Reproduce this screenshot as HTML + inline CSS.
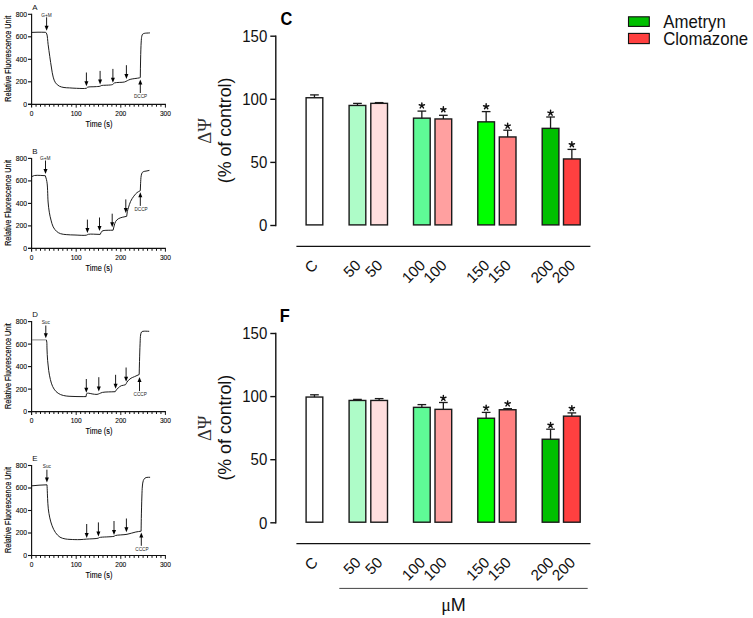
<!DOCTYPE html>
<html><head><meta charset="utf-8"><style>
html,body{margin:0;padding:0;background:#fff;}
svg{display:block;}
text{font-family:"Liberation Sans", sans-serif;}
</style></head><body>
<svg width="753" height="618" viewBox="0 0 753 618">
<rect width="753" height="618" fill="#fff"/>
<g><line x1="31.6" y1="13.80" x2="31.6" y2="107.60" stroke="#111" stroke-width="1.15"/><line x1="28.00" y1="104.3" x2="165.90" y2="104.3" stroke="#111" stroke-width="1.15"/><line x1="28.00" y1="104.30" x2="31.6" y2="104.30" stroke="#111" stroke-width="1.1"/><text x="27.00" y="106.70" font-size="6.8" text-anchor="end" fill="#000" stroke="#000" stroke-width="0.08">0</text><line x1="28.00" y1="81.80" x2="31.6" y2="81.80" stroke="#111" stroke-width="1.1"/><text x="27.00" y="84.20" font-size="6.8" text-anchor="end" fill="#000" stroke="#000" stroke-width="0.08">200</text><line x1="28.00" y1="59.30" x2="31.6" y2="59.30" stroke="#111" stroke-width="1.1"/><text x="27.00" y="61.70" font-size="6.8" text-anchor="end" fill="#000" stroke="#000" stroke-width="0.08">400</text><line x1="28.00" y1="36.80" x2="31.6" y2="36.80" stroke="#111" stroke-width="1.1"/><text x="27.00" y="39.20" font-size="6.8" text-anchor="end" fill="#000" stroke="#000" stroke-width="0.08">600</text><line x1="28.00" y1="14.30" x2="31.6" y2="14.30" stroke="#111" stroke-width="1.1"/><text x="27.00" y="16.70" font-size="6.8" text-anchor="end" fill="#000" stroke="#000" stroke-width="0.08">800</text><line x1="36.06" y1="104.3" x2="36.06" y2="106.70" stroke="#111" stroke-width="1.0"/><line x1="40.52" y1="104.3" x2="40.52" y2="106.70" stroke="#111" stroke-width="1.0"/><line x1="44.98" y1="104.3" x2="44.98" y2="106.70" stroke="#111" stroke-width="1.0"/><line x1="49.44" y1="104.3" x2="49.44" y2="106.70" stroke="#111" stroke-width="1.0"/><line x1="53.90" y1="104.3" x2="53.90" y2="106.70" stroke="#111" stroke-width="1.0"/><line x1="58.36" y1="104.3" x2="58.36" y2="106.70" stroke="#111" stroke-width="1.0"/><line x1="62.82" y1="104.3" x2="62.82" y2="106.70" stroke="#111" stroke-width="1.0"/><line x1="67.28" y1="104.3" x2="67.28" y2="106.70" stroke="#111" stroke-width="1.0"/><line x1="71.74" y1="104.3" x2="71.74" y2="106.70" stroke="#111" stroke-width="1.0"/><line x1="76.20" y1="104.3" x2="76.20" y2="107.60" stroke="#111" stroke-width="1.0"/><line x1="80.66" y1="104.3" x2="80.66" y2="106.70" stroke="#111" stroke-width="1.0"/><line x1="85.12" y1="104.3" x2="85.12" y2="106.70" stroke="#111" stroke-width="1.0"/><line x1="89.58" y1="104.3" x2="89.58" y2="106.70" stroke="#111" stroke-width="1.0"/><line x1="94.04" y1="104.3" x2="94.04" y2="106.70" stroke="#111" stroke-width="1.0"/><line x1="98.50" y1="104.3" x2="98.50" y2="106.70" stroke="#111" stroke-width="1.0"/><line x1="102.96" y1="104.3" x2="102.96" y2="106.70" stroke="#111" stroke-width="1.0"/><line x1="107.42" y1="104.3" x2="107.42" y2="106.70" stroke="#111" stroke-width="1.0"/><line x1="111.88" y1="104.3" x2="111.88" y2="106.70" stroke="#111" stroke-width="1.0"/><line x1="116.34" y1="104.3" x2="116.34" y2="106.70" stroke="#111" stroke-width="1.0"/><line x1="120.80" y1="104.3" x2="120.80" y2="107.60" stroke="#111" stroke-width="1.0"/><line x1="125.26" y1="104.3" x2="125.26" y2="106.70" stroke="#111" stroke-width="1.0"/><line x1="129.72" y1="104.3" x2="129.72" y2="106.70" stroke="#111" stroke-width="1.0"/><line x1="134.18" y1="104.3" x2="134.18" y2="106.70" stroke="#111" stroke-width="1.0"/><line x1="138.64" y1="104.3" x2="138.64" y2="106.70" stroke="#111" stroke-width="1.0"/><line x1="143.10" y1="104.3" x2="143.10" y2="106.70" stroke="#111" stroke-width="1.0"/><line x1="147.56" y1="104.3" x2="147.56" y2="106.70" stroke="#111" stroke-width="1.0"/><line x1="152.02" y1="104.3" x2="152.02" y2="106.70" stroke="#111" stroke-width="1.0"/><line x1="156.48" y1="104.3" x2="156.48" y2="106.70" stroke="#111" stroke-width="1.0"/><line x1="160.94" y1="104.3" x2="160.94" y2="106.70" stroke="#111" stroke-width="1.0"/><line x1="165.40" y1="104.3" x2="165.40" y2="107.60" stroke="#111" stroke-width="1.0"/><text x="31.60" y="115.70" font-size="6.6" text-anchor="middle" fill="#000" stroke="#000" stroke-width="0.08">0</text><text x="76.20" y="115.70" font-size="6.6" text-anchor="middle" fill="#000" stroke="#000" stroke-width="0.08">100</text><text x="120.80" y="115.70" font-size="6.6" text-anchor="middle" fill="#000" stroke="#000" stroke-width="0.08">200</text><text x="165.40" y="115.70" font-size="6.6" text-anchor="middle" fill="#000" stroke="#000" stroke-width="0.08">300</text><text transform="translate(99.00,126.70) scale(1,1.12)" font-size="7.4" text-anchor="middle" fill="#000" stroke="#000" stroke-width="0.1">Time (s)</text><text transform="translate(10.6,58.80) rotate(-90) scale(1,1.18)" x="0" y="0" font-size="7.2" text-anchor="middle" fill="#000" stroke="#000" stroke-width="0.12">Relative Fluorescence Unit</text><text x="32.2" y="9.60" font-size="7.9" fill="#111">A</text><path d="M32.00,32.40 C34.00,32.33 35.88,32.22 38.00,32.20 C40.41,32.18 43.13,32.27 45.70,32.30 C46.07,32.87 46.49,33.14 46.80,34.00 C47.51,35.94 47.63,40.71 48.10,44.30 C48.62,48.24 49.22,52.66 49.80,56.70 C50.35,60.56 50.90,64.44 51.50,68.00 C52.04,71.20 52.43,74.45 53.20,77.10 C53.83,79.26 54.39,81.25 55.50,82.80 C56.51,84.23 57.95,85.41 59.40,86.20 C60.79,86.95 62.38,87.22 64.00,87.50 C65.76,87.81 67.64,87.77 69.60,87.90 C71.78,88.04 73.99,88.24 76.50,88.30 C79.52,88.37 84.89,88.83 86.50,88.20 C87.12,87.96 87.01,87.45 87.60,87.20 C88.93,86.63 92.76,86.89 95.00,86.70 C96.86,86.55 99.04,86.53 100.10,86.20 C100.62,86.04 100.61,85.78 101.20,85.60 C102.98,85.05 110.55,85.39 112.60,84.50 C113.51,84.10 113.40,83.39 114.30,83.00 C116.19,82.17 122.08,82.62 124.40,82.00 C125.70,81.66 126.34,81.14 127.30,80.70 C128.24,80.27 128.87,79.78 130.10,79.40 C132.23,78.74 137.64,78.31 139.20,77.90 C139.75,77.75 139.93,77.63 140.30,77.50 C140.40,71.33 140.44,65.04 140.60,59.00 C140.75,53.21 140.91,46.18 141.20,42.00 C141.37,39.56 141.45,37.61 141.80,36.20 C142.01,35.34 142.17,34.67 142.60,34.20 C142.99,33.77 143.48,33.60 144.20,33.40 C145.49,33.03 148.00,33.07 149.90,32.90" fill="none" stroke="#111" stroke-width="0.95" stroke-linejoin="round"/><line x1="46.6" y1="17.3" x2="46.6" y2="26.80" stroke="#000" stroke-width="0.9"/><path d="M44.60,25.80 L48.60,25.80 L46.6,30.8 Z" fill="#000"/><line x1="86.4" y1="72.5" x2="86.4" y2="82.20" stroke="#000" stroke-width="0.9"/><path d="M84.40,81.20 L88.40,81.20 L86.4,86.19999999999999 Z" fill="#000"/><line x1="100.1" y1="70.9" x2="100.1" y2="80.50" stroke="#000" stroke-width="0.9"/><path d="M98.10,79.50 L102.10,79.50 L100.1,84.5 Z" fill="#000"/><line x1="112.9" y1="68.9" x2="112.9" y2="78.80" stroke="#000" stroke-width="0.9"/><path d="M110.90,77.80 L114.90,77.80 L112.9,82.8 Z" fill="#000"/><line x1="126.4" y1="65.2" x2="126.4" y2="75.00" stroke="#000" stroke-width="0.9"/><path d="M124.40,74.00 L128.40,74.00 L126.4,79.0 Z" fill="#000"/><line x1="140.3" y1="93.0" x2="140.3" y2="83.60" stroke="#000" stroke-width="0.9"/><path d="M138.30,84.60 L142.30,84.60 L140.3,79.60000000000001 Z" fill="#000"/><text transform="translate(46.5,16.80) scale(0.92,1)" font-size="5.2" text-anchor="middle" fill="#222">G+M</text><text transform="translate(140.60,97.55) scale(0.9,0.95)" font-size="5.2" text-anchor="middle" fill="#222">DCCP</text></g>
<g><line x1="31.6" y1="157.90" x2="31.6" y2="251.70" stroke="#111" stroke-width="1.15"/><line x1="28.00" y1="248.4" x2="165.90" y2="248.4" stroke="#111" stroke-width="1.15"/><line x1="28.00" y1="248.40" x2="31.6" y2="248.40" stroke="#111" stroke-width="1.1"/><text x="27.00" y="250.80" font-size="6.8" text-anchor="end" fill="#000" stroke="#000" stroke-width="0.08">0</text><line x1="28.00" y1="225.90" x2="31.6" y2="225.90" stroke="#111" stroke-width="1.1"/><text x="27.00" y="228.30" font-size="6.8" text-anchor="end" fill="#000" stroke="#000" stroke-width="0.08">200</text><line x1="28.00" y1="203.40" x2="31.6" y2="203.40" stroke="#111" stroke-width="1.1"/><text x="27.00" y="205.80" font-size="6.8" text-anchor="end" fill="#000" stroke="#000" stroke-width="0.08">400</text><line x1="28.00" y1="180.90" x2="31.6" y2="180.90" stroke="#111" stroke-width="1.1"/><text x="27.00" y="183.30" font-size="6.8" text-anchor="end" fill="#000" stroke="#000" stroke-width="0.08">600</text><line x1="28.00" y1="158.40" x2="31.6" y2="158.40" stroke="#111" stroke-width="1.1"/><text x="27.00" y="160.80" font-size="6.8" text-anchor="end" fill="#000" stroke="#000" stroke-width="0.08">800</text><line x1="36.06" y1="248.4" x2="36.06" y2="250.80" stroke="#111" stroke-width="1.0"/><line x1="40.52" y1="248.4" x2="40.52" y2="250.80" stroke="#111" stroke-width="1.0"/><line x1="44.98" y1="248.4" x2="44.98" y2="250.80" stroke="#111" stroke-width="1.0"/><line x1="49.44" y1="248.4" x2="49.44" y2="250.80" stroke="#111" stroke-width="1.0"/><line x1="53.90" y1="248.4" x2="53.90" y2="250.80" stroke="#111" stroke-width="1.0"/><line x1="58.36" y1="248.4" x2="58.36" y2="250.80" stroke="#111" stroke-width="1.0"/><line x1="62.82" y1="248.4" x2="62.82" y2="250.80" stroke="#111" stroke-width="1.0"/><line x1="67.28" y1="248.4" x2="67.28" y2="250.80" stroke="#111" stroke-width="1.0"/><line x1="71.74" y1="248.4" x2="71.74" y2="250.80" stroke="#111" stroke-width="1.0"/><line x1="76.20" y1="248.4" x2="76.20" y2="251.70" stroke="#111" stroke-width="1.0"/><line x1="80.66" y1="248.4" x2="80.66" y2="250.80" stroke="#111" stroke-width="1.0"/><line x1="85.12" y1="248.4" x2="85.12" y2="250.80" stroke="#111" stroke-width="1.0"/><line x1="89.58" y1="248.4" x2="89.58" y2="250.80" stroke="#111" stroke-width="1.0"/><line x1="94.04" y1="248.4" x2="94.04" y2="250.80" stroke="#111" stroke-width="1.0"/><line x1="98.50" y1="248.4" x2="98.50" y2="250.80" stroke="#111" stroke-width="1.0"/><line x1="102.96" y1="248.4" x2="102.96" y2="250.80" stroke="#111" stroke-width="1.0"/><line x1="107.42" y1="248.4" x2="107.42" y2="250.80" stroke="#111" stroke-width="1.0"/><line x1="111.88" y1="248.4" x2="111.88" y2="250.80" stroke="#111" stroke-width="1.0"/><line x1="116.34" y1="248.4" x2="116.34" y2="250.80" stroke="#111" stroke-width="1.0"/><line x1="120.80" y1="248.4" x2="120.80" y2="251.70" stroke="#111" stroke-width="1.0"/><line x1="125.26" y1="248.4" x2="125.26" y2="250.80" stroke="#111" stroke-width="1.0"/><line x1="129.72" y1="248.4" x2="129.72" y2="250.80" stroke="#111" stroke-width="1.0"/><line x1="134.18" y1="248.4" x2="134.18" y2="250.80" stroke="#111" stroke-width="1.0"/><line x1="138.64" y1="248.4" x2="138.64" y2="250.80" stroke="#111" stroke-width="1.0"/><line x1="143.10" y1="248.4" x2="143.10" y2="250.80" stroke="#111" stroke-width="1.0"/><line x1="147.56" y1="248.4" x2="147.56" y2="250.80" stroke="#111" stroke-width="1.0"/><line x1="152.02" y1="248.4" x2="152.02" y2="250.80" stroke="#111" stroke-width="1.0"/><line x1="156.48" y1="248.4" x2="156.48" y2="250.80" stroke="#111" stroke-width="1.0"/><line x1="160.94" y1="248.4" x2="160.94" y2="250.80" stroke="#111" stroke-width="1.0"/><line x1="165.40" y1="248.4" x2="165.40" y2="251.70" stroke="#111" stroke-width="1.0"/><text x="31.60" y="259.80" font-size="6.6" text-anchor="middle" fill="#000" stroke="#000" stroke-width="0.08">0</text><text x="76.20" y="259.80" font-size="6.6" text-anchor="middle" fill="#000" stroke="#000" stroke-width="0.08">100</text><text x="120.80" y="259.80" font-size="6.6" text-anchor="middle" fill="#000" stroke="#000" stroke-width="0.08">200</text><text x="165.40" y="259.80" font-size="6.6" text-anchor="middle" fill="#000" stroke="#000" stroke-width="0.08">300</text><text transform="translate(99.00,270.80) scale(1,1.12)" font-size="7.4" text-anchor="middle" fill="#000" stroke="#000" stroke-width="0.1">Time (s)</text><text transform="translate(10.6,202.90) rotate(-90) scale(1,1.18)" x="0" y="0" font-size="7.2" text-anchor="middle" fill="#000" stroke="#000" stroke-width="0.12">Relative Fluorescence Unit</text><text x="32.2" y="153.60" font-size="7.9" fill="#111">B</text><path d="M32.00,176.50 C32.83,176.17 33.47,175.71 34.50,175.50 C35.99,175.20 38.35,175.36 40.20,175.40 C41.95,175.44 43.60,175.60 45.30,175.70 C45.67,176.90 46.09,178.02 46.40,179.30 C46.74,180.73 47.00,182.22 47.20,183.90 C47.43,185.92 47.47,188.07 47.60,190.60 C47.77,193.90 47.80,198.31 48.10,202.00 C48.38,205.50 48.77,209.03 49.30,212.20 C49.77,215.01 50.32,217.58 51.00,220.10 C51.64,222.47 52.18,224.94 53.20,226.90 C54.11,228.64 55.29,230.24 56.60,231.40 C57.79,232.45 59.10,233.17 60.60,233.70 C62.26,234.29 64.12,234.39 66.20,234.60 C68.80,234.87 71.88,234.90 75.00,235.00 C78.53,235.11 84.10,235.65 86.30,235.20 C87.27,235.00 87.32,234.51 88.30,234.30 C90.58,233.82 96.23,234.37 100.20,234.40 C100.83,233.30 101.31,231.72 102.10,231.10 C102.68,230.64 103.18,230.65 104.10,230.50 C106.01,230.19 110.10,230.30 113.10,230.20 C113.43,228.80 113.68,227.42 114.10,226.00 C114.54,224.49 114.92,222.65 115.70,221.40 C116.38,220.32 117.26,219.47 118.30,218.80 C119.41,218.08 120.84,217.71 122.20,217.30 C123.63,216.87 125.20,216.63 126.70,216.30 C126.90,214.77 127.00,213.16 127.30,211.70 C127.58,210.34 127.95,209.25 128.40,207.80 C128.99,205.92 129.67,203.38 130.60,201.40 C131.49,199.52 132.66,197.73 133.80,196.20 C134.81,194.84 135.84,193.54 137.00,192.60 C138.03,191.76 139.20,191.33 140.30,190.70 C140.40,188.23 140.45,185.77 140.60,183.30 C140.75,180.81 140.82,177.76 141.20,175.80 C141.45,174.49 141.66,173.33 142.20,172.60 C142.61,172.04 143.19,171.75 143.80,171.50 C144.45,171.23 145.19,171.26 146.00,171.10 C147.01,170.90 148.27,170.63 149.40,170.40" fill="none" stroke="#111" stroke-width="0.95" stroke-linejoin="round"/><line x1="45.5" y1="160.5" x2="45.5" y2="170.10" stroke="#000" stroke-width="0.9"/><path d="M43.50,169.10 L47.50,169.10 L45.5,174.1 Z" fill="#000"/><line x1="87.4" y1="219.6" x2="87.4" y2="229.10" stroke="#000" stroke-width="0.9"/><path d="M85.40,228.10 L89.40,228.10 L87.4,233.1 Z" fill="#000"/><line x1="99.5" y1="217.5" x2="99.5" y2="227.10" stroke="#000" stroke-width="0.9"/><path d="M97.50,226.10 L101.50,226.10 L99.5,231.1 Z" fill="#000"/><line x1="112.2" y1="213.7" x2="112.2" y2="223.20" stroke="#000" stroke-width="0.9"/><path d="M110.20,222.20 L114.20,222.20 L112.2,227.2 Z" fill="#000"/><line x1="125.8" y1="199.4" x2="125.8" y2="209.00" stroke="#000" stroke-width="0.9"/><path d="M123.80,208.00 L127.80,208.00 L125.8,213.0 Z" fill="#000"/><line x1="140.3" y1="205.9" x2="140.3" y2="196.20" stroke="#000" stroke-width="0.9"/><path d="M138.30,197.20 L142.30,197.20 L140.3,192.20000000000002 Z" fill="#000"/><text transform="translate(45.3,159.80) scale(0.92,1)" font-size="5.2" text-anchor="middle" fill="#222">G+M</text><text transform="translate(141.00,210.85) scale(0.9,0.95)" font-size="5.2" text-anchor="middle" fill="#222">DCCP</text></g>
<g><line x1="31.6" y1="321.10" x2="31.6" y2="414.90" stroke="#111" stroke-width="1.15"/><line x1="28.00" y1="411.6" x2="165.90" y2="411.6" stroke="#111" stroke-width="1.15"/><line x1="28.00" y1="411.60" x2="31.6" y2="411.60" stroke="#111" stroke-width="1.1"/><text x="27.00" y="414.00" font-size="6.8" text-anchor="end" fill="#000" stroke="#000" stroke-width="0.08">0</text><line x1="28.00" y1="389.10" x2="31.6" y2="389.10" stroke="#111" stroke-width="1.1"/><text x="27.00" y="391.50" font-size="6.8" text-anchor="end" fill="#000" stroke="#000" stroke-width="0.08">200</text><line x1="28.00" y1="366.60" x2="31.6" y2="366.60" stroke="#111" stroke-width="1.1"/><text x="27.00" y="369.00" font-size="6.8" text-anchor="end" fill="#000" stroke="#000" stroke-width="0.08">400</text><line x1="28.00" y1="344.10" x2="31.6" y2="344.10" stroke="#111" stroke-width="1.1"/><text x="27.00" y="346.50" font-size="6.8" text-anchor="end" fill="#000" stroke="#000" stroke-width="0.08">600</text><line x1="28.00" y1="321.60" x2="31.6" y2="321.60" stroke="#111" stroke-width="1.1"/><text x="27.00" y="324.00" font-size="6.8" text-anchor="end" fill="#000" stroke="#000" stroke-width="0.08">800</text><line x1="36.06" y1="411.6" x2="36.06" y2="414.00" stroke="#111" stroke-width="1.0"/><line x1="40.52" y1="411.6" x2="40.52" y2="414.00" stroke="#111" stroke-width="1.0"/><line x1="44.98" y1="411.6" x2="44.98" y2="414.00" stroke="#111" stroke-width="1.0"/><line x1="49.44" y1="411.6" x2="49.44" y2="414.00" stroke="#111" stroke-width="1.0"/><line x1="53.90" y1="411.6" x2="53.90" y2="414.00" stroke="#111" stroke-width="1.0"/><line x1="58.36" y1="411.6" x2="58.36" y2="414.00" stroke="#111" stroke-width="1.0"/><line x1="62.82" y1="411.6" x2="62.82" y2="414.00" stroke="#111" stroke-width="1.0"/><line x1="67.28" y1="411.6" x2="67.28" y2="414.00" stroke="#111" stroke-width="1.0"/><line x1="71.74" y1="411.6" x2="71.74" y2="414.00" stroke="#111" stroke-width="1.0"/><line x1="76.20" y1="411.6" x2="76.20" y2="414.90" stroke="#111" stroke-width="1.0"/><line x1="80.66" y1="411.6" x2="80.66" y2="414.00" stroke="#111" stroke-width="1.0"/><line x1="85.12" y1="411.6" x2="85.12" y2="414.00" stroke="#111" stroke-width="1.0"/><line x1="89.58" y1="411.6" x2="89.58" y2="414.00" stroke="#111" stroke-width="1.0"/><line x1="94.04" y1="411.6" x2="94.04" y2="414.00" stroke="#111" stroke-width="1.0"/><line x1="98.50" y1="411.6" x2="98.50" y2="414.00" stroke="#111" stroke-width="1.0"/><line x1="102.96" y1="411.6" x2="102.96" y2="414.00" stroke="#111" stroke-width="1.0"/><line x1="107.42" y1="411.6" x2="107.42" y2="414.00" stroke="#111" stroke-width="1.0"/><line x1="111.88" y1="411.6" x2="111.88" y2="414.00" stroke="#111" stroke-width="1.0"/><line x1="116.34" y1="411.6" x2="116.34" y2="414.00" stroke="#111" stroke-width="1.0"/><line x1="120.80" y1="411.6" x2="120.80" y2="414.90" stroke="#111" stroke-width="1.0"/><line x1="125.26" y1="411.6" x2="125.26" y2="414.00" stroke="#111" stroke-width="1.0"/><line x1="129.72" y1="411.6" x2="129.72" y2="414.00" stroke="#111" stroke-width="1.0"/><line x1="134.18" y1="411.6" x2="134.18" y2="414.00" stroke="#111" stroke-width="1.0"/><line x1="138.64" y1="411.6" x2="138.64" y2="414.00" stroke="#111" stroke-width="1.0"/><line x1="143.10" y1="411.6" x2="143.10" y2="414.00" stroke="#111" stroke-width="1.0"/><line x1="147.56" y1="411.6" x2="147.56" y2="414.00" stroke="#111" stroke-width="1.0"/><line x1="152.02" y1="411.6" x2="152.02" y2="414.00" stroke="#111" stroke-width="1.0"/><line x1="156.48" y1="411.6" x2="156.48" y2="414.00" stroke="#111" stroke-width="1.0"/><line x1="160.94" y1="411.6" x2="160.94" y2="414.00" stroke="#111" stroke-width="1.0"/><line x1="165.40" y1="411.6" x2="165.40" y2="414.90" stroke="#111" stroke-width="1.0"/><text x="31.60" y="423.00" font-size="6.6" text-anchor="middle" fill="#000" stroke="#000" stroke-width="0.08">0</text><text x="76.20" y="423.00" font-size="6.6" text-anchor="middle" fill="#000" stroke="#000" stroke-width="0.08">100</text><text x="120.80" y="423.00" font-size="6.6" text-anchor="middle" fill="#000" stroke="#000" stroke-width="0.08">200</text><text x="165.40" y="423.00" font-size="6.6" text-anchor="middle" fill="#000" stroke="#000" stroke-width="0.08">300</text><text transform="translate(99.00,434.00) scale(1,1.12)" font-size="7.4" text-anchor="middle" fill="#000" stroke="#000" stroke-width="0.1">Time (s)</text><text transform="translate(10.6,366.10) rotate(-90) scale(1,1.18)" x="0" y="0" font-size="7.2" text-anchor="middle" fill="#000" stroke="#000" stroke-width="0.12">Relative Fluorescence Unit</text><text x="32.2" y="316.70" font-size="7.9" fill="#111">D</text><path d="M46.40,339.90 C46.53,340.67 46.70,341.23 46.80,342.20 C46.97,343.86 46.89,346.45 47.00,349.00 C47.14,352.29 47.31,356.63 47.60,360.30 C47.88,363.79 48.22,367.21 48.70,370.50 C49.16,373.63 49.69,376.81 50.40,379.60 C51.02,382.05 51.61,384.36 52.60,386.40 C53.51,388.29 54.62,390.11 56.00,391.50 C57.31,392.82 58.92,393.85 60.60,394.60 C62.31,395.36 64.30,395.70 66.20,396.00 C68.10,396.30 69.91,396.30 72.00,396.40 C74.45,396.52 77.51,396.57 80.00,396.60 C82.17,396.63 84.07,396.60 86.10,396.60 C86.30,395.60 86.18,394.13 86.70,393.60 C87.11,393.19 87.80,393.21 88.50,393.20 C89.49,393.19 90.80,393.71 92.10,393.90 C93.60,394.12 95.67,394.55 97.00,394.40 C97.95,394.29 98.55,393.91 99.40,393.60 C100.37,393.25 101.08,392.71 102.50,392.40 C105.27,391.80 110.97,391.93 115.20,391.70 C115.60,391.10 115.93,390.50 116.40,389.90 C116.92,389.23 117.48,388.54 118.20,387.90 C119.06,387.13 120.13,386.23 121.30,385.70 C122.55,385.14 124.60,385.38 125.50,384.70 C126.18,384.19 126.23,383.31 126.70,382.60 C127.22,381.81 127.80,380.92 128.50,380.20 C129.22,379.45 130.05,378.78 131.00,378.20 C132.06,377.56 133.33,377.17 134.60,376.60 C136.04,375.95 137.67,375.20 139.20,374.50 C139.30,370.13 139.37,366.12 139.50,361.40 C139.66,355.83 139.87,348.07 140.10,343.20 C140.25,339.93 140.24,337.04 140.60,335.00 C140.82,333.74 140.98,332.61 141.50,332.00 C141.88,331.56 142.31,331.45 143.00,331.30 C144.34,331.00 147.13,331.30 149.20,331.30" fill="none" stroke="#111" stroke-width="0.95" stroke-linejoin="round"/><line x1="32" y1="339.9" x2="46.4" y2="339.9" stroke="#777" stroke-width="0.9"/><line x1="45.8" y1="325.5" x2="45.8" y2="334.30" stroke="#000" stroke-width="0.9"/><path d="M43.80,333.30 L47.80,333.30 L45.8,338.3 Z" fill="#000"/><line x1="86.3" y1="379" x2="86.3" y2="388.80" stroke="#000" stroke-width="0.9"/><path d="M84.30,387.80 L88.30,387.80 L86.3,392.8 Z" fill="#000"/><line x1="98.8" y1="377.2" x2="98.8" y2="387.60" stroke="#000" stroke-width="0.9"/><path d="M96.80,386.60 L100.80,386.60 L98.8,391.6 Z" fill="#000"/><line x1="115.6" y1="374.8" x2="115.6" y2="384.70" stroke="#000" stroke-width="0.9"/><path d="M113.60,383.70 L117.60,383.70 L115.6,388.70000000000005 Z" fill="#000"/><line x1="126.1" y1="367.5" x2="126.1" y2="377.80" stroke="#000" stroke-width="0.9"/><path d="M124.10,376.80 L128.10,376.80 L126.1,381.8 Z" fill="#000"/><line x1="139.5" y1="391.1" x2="139.5" y2="381.00" stroke="#000" stroke-width="0.9"/><path d="M137.50,382.00 L141.50,382.00 L139.5,377.0 Z" fill="#000"/><text transform="translate(45.8,324.10) scale(0.92,1)" font-size="5.2" text-anchor="middle" fill="#222">Suc</text><text transform="translate(140.20,395.55) scale(0.9,0.95)" font-size="5.2" text-anchor="middle" fill="#222">CCCP</text></g>
<g><line x1="31.6" y1="465.00" x2="31.6" y2="558.80" stroke="#111" stroke-width="1.15"/><line x1="28.00" y1="555.5" x2="165.90" y2="555.5" stroke="#111" stroke-width="1.15"/><line x1="28.00" y1="555.50" x2="31.6" y2="555.50" stroke="#111" stroke-width="1.1"/><text x="27.00" y="557.90" font-size="6.8" text-anchor="end" fill="#000" stroke="#000" stroke-width="0.08">0</text><line x1="28.00" y1="533.00" x2="31.6" y2="533.00" stroke="#111" stroke-width="1.1"/><text x="27.00" y="535.40" font-size="6.8" text-anchor="end" fill="#000" stroke="#000" stroke-width="0.08">200</text><line x1="28.00" y1="510.50" x2="31.6" y2="510.50" stroke="#111" stroke-width="1.1"/><text x="27.00" y="512.90" font-size="6.8" text-anchor="end" fill="#000" stroke="#000" stroke-width="0.08">400</text><line x1="28.00" y1="488.00" x2="31.6" y2="488.00" stroke="#111" stroke-width="1.1"/><text x="27.00" y="490.40" font-size="6.8" text-anchor="end" fill="#000" stroke="#000" stroke-width="0.08">600</text><line x1="28.00" y1="465.50" x2="31.6" y2="465.50" stroke="#111" stroke-width="1.1"/><text x="27.00" y="467.90" font-size="6.8" text-anchor="end" fill="#000" stroke="#000" stroke-width="0.08">800</text><line x1="36.06" y1="555.5" x2="36.06" y2="557.90" stroke="#111" stroke-width="1.0"/><line x1="40.52" y1="555.5" x2="40.52" y2="557.90" stroke="#111" stroke-width="1.0"/><line x1="44.98" y1="555.5" x2="44.98" y2="557.90" stroke="#111" stroke-width="1.0"/><line x1="49.44" y1="555.5" x2="49.44" y2="557.90" stroke="#111" stroke-width="1.0"/><line x1="53.90" y1="555.5" x2="53.90" y2="557.90" stroke="#111" stroke-width="1.0"/><line x1="58.36" y1="555.5" x2="58.36" y2="557.90" stroke="#111" stroke-width="1.0"/><line x1="62.82" y1="555.5" x2="62.82" y2="557.90" stroke="#111" stroke-width="1.0"/><line x1="67.28" y1="555.5" x2="67.28" y2="557.90" stroke="#111" stroke-width="1.0"/><line x1="71.74" y1="555.5" x2="71.74" y2="557.90" stroke="#111" stroke-width="1.0"/><line x1="76.20" y1="555.5" x2="76.20" y2="558.80" stroke="#111" stroke-width="1.0"/><line x1="80.66" y1="555.5" x2="80.66" y2="557.90" stroke="#111" stroke-width="1.0"/><line x1="85.12" y1="555.5" x2="85.12" y2="557.90" stroke="#111" stroke-width="1.0"/><line x1="89.58" y1="555.5" x2="89.58" y2="557.90" stroke="#111" stroke-width="1.0"/><line x1="94.04" y1="555.5" x2="94.04" y2="557.90" stroke="#111" stroke-width="1.0"/><line x1="98.50" y1="555.5" x2="98.50" y2="557.90" stroke="#111" stroke-width="1.0"/><line x1="102.96" y1="555.5" x2="102.96" y2="557.90" stroke="#111" stroke-width="1.0"/><line x1="107.42" y1="555.5" x2="107.42" y2="557.90" stroke="#111" stroke-width="1.0"/><line x1="111.88" y1="555.5" x2="111.88" y2="557.90" stroke="#111" stroke-width="1.0"/><line x1="116.34" y1="555.5" x2="116.34" y2="557.90" stroke="#111" stroke-width="1.0"/><line x1="120.80" y1="555.5" x2="120.80" y2="558.80" stroke="#111" stroke-width="1.0"/><line x1="125.26" y1="555.5" x2="125.26" y2="557.90" stroke="#111" stroke-width="1.0"/><line x1="129.72" y1="555.5" x2="129.72" y2="557.90" stroke="#111" stroke-width="1.0"/><line x1="134.18" y1="555.5" x2="134.18" y2="557.90" stroke="#111" stroke-width="1.0"/><line x1="138.64" y1="555.5" x2="138.64" y2="557.90" stroke="#111" stroke-width="1.0"/><line x1="143.10" y1="555.5" x2="143.10" y2="557.90" stroke="#111" stroke-width="1.0"/><line x1="147.56" y1="555.5" x2="147.56" y2="557.90" stroke="#111" stroke-width="1.0"/><line x1="152.02" y1="555.5" x2="152.02" y2="557.90" stroke="#111" stroke-width="1.0"/><line x1="156.48" y1="555.5" x2="156.48" y2="557.90" stroke="#111" stroke-width="1.0"/><line x1="160.94" y1="555.5" x2="160.94" y2="557.90" stroke="#111" stroke-width="1.0"/><line x1="165.40" y1="555.5" x2="165.40" y2="558.80" stroke="#111" stroke-width="1.0"/><text x="31.60" y="566.90" font-size="6.6" text-anchor="middle" fill="#000" stroke="#000" stroke-width="0.08">0</text><text x="76.20" y="566.90" font-size="6.6" text-anchor="middle" fill="#000" stroke="#000" stroke-width="0.08">100</text><text x="120.80" y="566.90" font-size="6.6" text-anchor="middle" fill="#000" stroke="#000" stroke-width="0.08">200</text><text x="165.40" y="566.90" font-size="6.6" text-anchor="middle" fill="#000" stroke="#000" stroke-width="0.08">300</text><text transform="translate(99.00,577.90) scale(1,1.12)" font-size="7.4" text-anchor="middle" fill="#000" stroke="#000" stroke-width="0.1">Time (s)</text><text transform="translate(10.6,510.00) rotate(-90) scale(1,1.18)" x="0" y="0" font-size="7.2" text-anchor="middle" fill="#000" stroke="#000" stroke-width="0.12">Relative Fluorescence Unit</text><text x="32.2" y="460.70" font-size="7.9" fill="#111">E</text><path d="M32.00,485.80 C34.33,485.60 36.59,485.36 39.00,485.20 C41.58,485.03 44.33,484.93 47.00,484.80 C47.07,486.03 47.13,486.96 47.20,488.50 C47.32,491.04 47.42,495.23 47.60,498.60 C47.78,501.99 47.92,505.51 48.30,508.80 C48.66,511.93 49.14,514.99 49.80,517.90 C50.42,520.65 51.12,523.31 52.10,525.80 C53.04,528.20 54.11,530.65 55.50,532.60 C56.78,534.40 58.31,536.14 60.00,537.20 C61.54,538.17 63.40,538.53 65.10,538.90 C66.73,539.25 68.08,539.28 70.00,539.40 C72.74,539.57 77.00,539.68 80.00,539.60 C82.46,539.53 84.17,539.29 86.70,539.10 C90.02,538.85 96.30,538.76 98.20,538.20 C98.88,538.00 98.80,537.71 99.50,537.50 C101.70,536.85 111.68,536.98 114.00,536.30 C114.79,536.07 114.73,535.74 115.50,535.50 C117.51,534.89 123.45,534.95 127.00,534.30 C130.15,533.73 133.22,532.53 135.80,532.00 C137.78,531.59 139.33,531.47 141.10,531.20 C141.17,526.97 141.20,523.33 141.30,518.50 C141.44,512.06 141.67,502.00 141.90,496.00 C142.05,492.00 142.10,488.82 142.40,486.00 C142.62,483.92 142.73,482.01 143.30,480.60 C143.72,479.55 144.32,478.63 145.00,478.10 C145.56,477.66 146.17,477.54 146.90,477.40 C147.82,477.22 149.03,477.33 150.10,477.30" fill="none" stroke="#111" stroke-width="0.95" stroke-linejoin="round"/><line x1="46.9" y1="469.7" x2="46.9" y2="478.40" stroke="#000" stroke-width="0.9"/><path d="M44.90,477.40 L48.90,477.40 L46.9,482.40000000000003 Z" fill="#000"/><line x1="86.7" y1="524" x2="86.7" y2="533.90" stroke="#000" stroke-width="0.9"/><path d="M84.70,532.90 L88.70,532.90 L86.7,537.9 Z" fill="#000"/><line x1="98.4" y1="522.4" x2="98.4" y2="532.60" stroke="#000" stroke-width="0.9"/><path d="M96.40,531.60 L100.40,531.60 L98.4,536.6 Z" fill="#000"/><line x1="114" y1="521" x2="114" y2="531.00" stroke="#000" stroke-width="0.9"/><path d="M112.00,530.00 L116.00,530.00 L114,535.0 Z" fill="#000"/><line x1="126.4" y1="518.5" x2="126.4" y2="528.20" stroke="#000" stroke-width="0.9"/><path d="M124.40,527.20 L128.40,527.20 L126.4,532.2 Z" fill="#000"/><line x1="141.3" y1="545.8" x2="141.3" y2="536.40" stroke="#000" stroke-width="0.9"/><path d="M139.30,537.40 L143.30,537.40 L141.3,532.4 Z" fill="#000"/><text transform="translate(46.9,467.90) scale(0.92,1)" font-size="5.2" text-anchor="middle" fill="#222">Suc</text><text transform="translate(141.90,550.75) scale(0.9,0.95)" font-size="5.2" text-anchor="middle" fill="#222">CCCP</text></g>
<g><text transform="translate(280.6,24.90) scale(1,1.08)" font-size="16.4" font-weight="bold" fill="#000">C</text><line x1="275.8" y1="35.50" x2="275.8" y2="226.20" stroke="#111" stroke-width="1.4"/><line x1="270.3" y1="225.50" x2="275.8" y2="225.50" stroke="#111" stroke-width="1.4"/><text transform="translate(267.3,231.20) scale(1,1.14)" font-size="15" text-anchor="end" fill="#111">0</text><line x1="270.3" y1="162.40" x2="275.8" y2="162.40" stroke="#111" stroke-width="1.4"/><text transform="translate(267.3,168.10) scale(1,1.14)" font-size="15" text-anchor="end" fill="#111">50</text><line x1="270.3" y1="99.30" x2="275.8" y2="99.30" stroke="#111" stroke-width="1.4"/><text transform="translate(267.3,105.00) scale(1,1.14)" font-size="15" text-anchor="end" fill="#111">100</text><line x1="270.3" y1="36.20" x2="275.8" y2="36.20" stroke="#111" stroke-width="1.4"/><text transform="translate(267.3,41.90) scale(1,1.14)" font-size="15" text-anchor="end" fill="#111">150</text><text transform="translate(210.9,131.00) rotate(-90)" style="font-family:Liberation Serif,serif" font-size="18.5" text-anchor="middle" fill="#333">ΔΨ</text><text transform="translate(231.4,130.40) rotate(-90)" font-size="17.8" text-anchor="middle" fill="#111">(% of control)</text><rect x="306.10" y="97.75" width="16.70" height="127.15" fill="#ffffff" stroke="#1a1a1a" stroke-width="1.4"/><line x1="314.45" y1="94.90" x2="314.45" y2="97.80" stroke="#1a1a1a" stroke-width="1.3"/><line x1="310.10" y1="94.90" x2="318.80" y2="94.90" stroke="#1a1a1a" stroke-width="1.3"/><rect x="349.10" y="105.45" width="16.70" height="119.45" fill="#aefcc8" stroke="#1a1a1a" stroke-width="1.4"/><line x1="357.45" y1="103.40" x2="357.45" y2="105.50" stroke="#1a1a1a" stroke-width="1.3"/><line x1="353.10" y1="103.40" x2="361.80" y2="103.40" stroke="#1a1a1a" stroke-width="1.3"/><rect x="370.80" y="103.35" width="16.70" height="121.55" fill="#ffdede" stroke="#1a1a1a" stroke-width="1.4"/><line x1="379.15" y1="102.60" x2="379.15" y2="103.40" stroke="#1a1a1a" stroke-width="1.3"/><line x1="374.80" y1="102.60" x2="383.50" y2="102.60" stroke="#1a1a1a" stroke-width="1.3"/><rect x="413.50" y="118.15" width="16.70" height="106.75" fill="#5ffa96" stroke="#1a1a1a" stroke-width="1.4"/><line x1="421.85" y1="111.10" x2="421.85" y2="118.20" stroke="#1a1a1a" stroke-width="1.3"/><line x1="417.50" y1="111.10" x2="426.20" y2="111.10" stroke="#1a1a1a" stroke-width="1.3"/><path d="M421.85,105.65 L421.85,102.90 M421.85,105.65 L424.47,104.80 M421.85,105.65 L423.47,107.87 M421.85,105.65 L420.23,107.87 M421.85,105.65 L419.23,104.80 " stroke="#111" stroke-width="1.45" stroke-linecap="round" fill="none"/><rect x="435.00" y="118.95" width="16.70" height="105.95" fill="#ffa0a0" stroke="#1a1a1a" stroke-width="1.4"/><line x1="443.35" y1="115.30" x2="443.35" y2="119.00" stroke="#1a1a1a" stroke-width="1.3"/><line x1="439.00" y1="115.30" x2="447.70" y2="115.30" stroke="#1a1a1a" stroke-width="1.3"/><path d="M443.35,109.55 L443.35,106.80 M443.35,109.55 L445.97,108.70 M443.35,109.55 L444.97,111.77 M443.35,109.55 L441.73,111.77 M443.35,109.55 L440.73,108.70 " stroke="#111" stroke-width="1.45" stroke-linecap="round" fill="none"/><rect x="477.80" y="121.85" width="16.70" height="103.05" fill="#00ff00" stroke="#1a1a1a" stroke-width="1.4"/><line x1="486.15" y1="111.60" x2="486.15" y2="121.90" stroke="#1a1a1a" stroke-width="1.3"/><line x1="481.80" y1="111.60" x2="490.50" y2="111.60" stroke="#1a1a1a" stroke-width="1.3"/><path d="M486.15,106.55 L486.15,103.80 M486.15,106.55 L488.77,105.70 M486.15,106.55 L487.77,108.77 M486.15,106.55 L484.53,108.77 M486.15,106.55 L483.53,105.70 " stroke="#111" stroke-width="1.45" stroke-linecap="round" fill="none"/><rect x="499.30" y="136.95" width="16.70" height="87.95" fill="#ff8080" stroke="#1a1a1a" stroke-width="1.4"/><line x1="507.65" y1="130.20" x2="507.65" y2="137.00" stroke="#1a1a1a" stroke-width="1.3"/><line x1="503.30" y1="130.20" x2="512.00" y2="130.20" stroke="#1a1a1a" stroke-width="1.3"/><path d="M507.65,125.95 L507.65,123.20 M507.65,125.95 L510.27,125.10 M507.65,125.95 L509.27,128.17 M507.65,125.95 L506.03,128.17 M507.65,125.95 L505.03,125.10 " stroke="#111" stroke-width="1.45" stroke-linecap="round" fill="none"/><rect x="542.20" y="128.35" width="16.70" height="96.55" fill="#00c000" stroke="#1a1a1a" stroke-width="1.4"/><line x1="550.55" y1="117.00" x2="550.55" y2="128.40" stroke="#1a1a1a" stroke-width="1.3"/><line x1="546.20" y1="117.00" x2="554.90" y2="117.00" stroke="#1a1a1a" stroke-width="1.3"/><path d="M550.55,112.95 L550.55,110.20 M550.55,112.95 L553.17,112.10 M550.55,112.95 L552.17,115.17 M550.55,112.95 L548.93,115.17 M550.55,112.95 L547.93,112.10 " stroke="#111" stroke-width="1.45" stroke-linecap="round" fill="none"/><rect x="563.50" y="158.95" width="16.70" height="65.95" fill="#ff4040" stroke="#1a1a1a" stroke-width="1.4"/><line x1="571.85" y1="149.40" x2="571.85" y2="159.00" stroke="#1a1a1a" stroke-width="1.3"/><line x1="567.50" y1="149.40" x2="576.20" y2="149.40" stroke="#1a1a1a" stroke-width="1.3"/><path d="M571.85,144.55 L571.85,141.80 M571.85,144.55 L574.47,143.70 M571.85,144.55 L573.47,146.77 M571.85,144.55 L570.23,146.77 M571.85,144.55 L569.23,143.70 " stroke="#111" stroke-width="1.45" stroke-linecap="round" fill="none"/><line x1="296.4" y1="246.40" x2="590.4" y2="246.40" stroke="#111" stroke-width="1.3"/><text transform="translate(318.75,266.20) rotate(-45)" font-size="15.2" text-anchor="end" fill="#111">C</text><text transform="translate(361.75,266.20) rotate(-45)" font-size="15.2" text-anchor="end" fill="#111">50</text><text transform="translate(383.45,266.20) rotate(-45)" font-size="15.2" text-anchor="end" fill="#111">50</text><text transform="translate(426.15,266.20) rotate(-45)" font-size="15.2" text-anchor="end" fill="#111">100</text><text transform="translate(447.65,266.20) rotate(-45)" font-size="15.2" text-anchor="end" fill="#111">100</text><text transform="translate(490.45,266.20) rotate(-45)" font-size="15.2" text-anchor="end" fill="#111">150</text><text transform="translate(511.95,266.20) rotate(-45)" font-size="15.2" text-anchor="end" fill="#111">150</text><text transform="translate(554.85,266.20) rotate(-45)" font-size="15.2" text-anchor="end" fill="#111">200</text><text transform="translate(576.15,266.20) rotate(-45)" font-size="15.2" text-anchor="end" fill="#111">200</text></g>
<g><text transform="translate(279.8,322.20) scale(1,1.08)" font-size="16.4" font-weight="bold" fill="#000">F</text><line x1="275.8" y1="332.80" x2="275.8" y2="523.50" stroke="#111" stroke-width="1.4"/><line x1="270.3" y1="522.80" x2="275.8" y2="522.80" stroke="#111" stroke-width="1.4"/><text transform="translate(267.3,528.50) scale(1,1.14)" font-size="15" text-anchor="end" fill="#111">0</text><line x1="270.3" y1="459.70" x2="275.8" y2="459.70" stroke="#111" stroke-width="1.4"/><text transform="translate(267.3,465.40) scale(1,1.14)" font-size="15" text-anchor="end" fill="#111">50</text><line x1="270.3" y1="396.60" x2="275.8" y2="396.60" stroke="#111" stroke-width="1.4"/><text transform="translate(267.3,402.30) scale(1,1.14)" font-size="15" text-anchor="end" fill="#111">100</text><line x1="270.3" y1="333.50" x2="275.8" y2="333.50" stroke="#111" stroke-width="1.4"/><text transform="translate(267.3,339.20) scale(1,1.14)" font-size="15" text-anchor="end" fill="#111">150</text><text transform="translate(210.9,428.30) rotate(-90)" style="font-family:Liberation Serif,serif" font-size="18.5" text-anchor="middle" fill="#333">ΔΨ</text><text transform="translate(231.4,427.70) rotate(-90)" font-size="17.8" text-anchor="middle" fill="#111">(% of control)</text><rect x="306.10" y="397.05" width="16.70" height="125.15" fill="#ffffff" stroke="#1a1a1a" stroke-width="1.4"/><line x1="314.45" y1="394.80" x2="314.45" y2="397.10" stroke="#1a1a1a" stroke-width="1.3"/><line x1="310.10" y1="394.80" x2="318.80" y2="394.80" stroke="#1a1a1a" stroke-width="1.3"/><rect x="349.10" y="400.45" width="16.70" height="121.75" fill="#aefcc8" stroke="#1a1a1a" stroke-width="1.4"/><line x1="357.45" y1="399.40" x2="357.45" y2="400.50" stroke="#1a1a1a" stroke-width="1.3"/><line x1="353.10" y1="399.40" x2="361.80" y2="399.40" stroke="#1a1a1a" stroke-width="1.3"/><rect x="370.80" y="400.45" width="16.70" height="121.75" fill="#ffdede" stroke="#1a1a1a" stroke-width="1.4"/><line x1="379.15" y1="398.60" x2="379.15" y2="400.50" stroke="#1a1a1a" stroke-width="1.3"/><line x1="374.80" y1="398.60" x2="383.50" y2="398.60" stroke="#1a1a1a" stroke-width="1.3"/><rect x="413.50" y="407.35" width="16.70" height="114.85" fill="#5ffa96" stroke="#1a1a1a" stroke-width="1.4"/><line x1="421.85" y1="404.60" x2="421.85" y2="407.40" stroke="#1a1a1a" stroke-width="1.3"/><line x1="417.50" y1="404.60" x2="426.20" y2="404.60" stroke="#1a1a1a" stroke-width="1.3"/><rect x="435.00" y="409.35" width="16.70" height="112.85" fill="#ffa0a0" stroke="#1a1a1a" stroke-width="1.4"/><line x1="443.35" y1="402.50" x2="443.35" y2="409.40" stroke="#1a1a1a" stroke-width="1.3"/><line x1="439.00" y1="402.50" x2="447.70" y2="402.50" stroke="#1a1a1a" stroke-width="1.3"/><path d="M443.35,398.15 L443.35,395.40 M443.35,398.15 L445.97,397.30 M443.35,398.15 L444.97,400.37 M443.35,398.15 L441.73,400.37 M443.35,398.15 L440.73,397.30 " stroke="#111" stroke-width="1.45" stroke-linecap="round" fill="none"/><rect x="477.80" y="418.25" width="16.70" height="103.95" fill="#00ff00" stroke="#1a1a1a" stroke-width="1.4"/><line x1="486.15" y1="412.40" x2="486.15" y2="418.30" stroke="#1a1a1a" stroke-width="1.3"/><line x1="481.80" y1="412.40" x2="490.50" y2="412.40" stroke="#1a1a1a" stroke-width="1.3"/><path d="M486.15,407.85 L486.15,405.10 M486.15,407.85 L488.77,407.00 M486.15,407.85 L487.77,410.07 M486.15,407.85 L484.53,410.07 M486.15,407.85 L483.53,407.00 " stroke="#111" stroke-width="1.45" stroke-linecap="round" fill="none"/><rect x="499.30" y="409.75" width="16.70" height="112.45" fill="#ff8080" stroke="#1a1a1a" stroke-width="1.4"/><line x1="507.65" y1="408.70" x2="507.65" y2="409.80" stroke="#1a1a1a" stroke-width="1.3"/><line x1="503.30" y1="408.70" x2="512.00" y2="408.70" stroke="#1a1a1a" stroke-width="1.3"/><path d="M507.65,403.65 L507.65,400.90 M507.65,403.65 L510.27,402.80 M507.65,403.65 L509.27,405.87 M507.65,403.65 L506.03,405.87 M507.65,403.65 L505.03,402.80 " stroke="#111" stroke-width="1.45" stroke-linecap="round" fill="none"/><rect x="542.20" y="439.25" width="16.70" height="82.95" fill="#00c000" stroke="#1a1a1a" stroke-width="1.4"/><line x1="550.55" y1="429.20" x2="550.55" y2="439.30" stroke="#1a1a1a" stroke-width="1.3"/><line x1="546.20" y1="429.20" x2="554.90" y2="429.20" stroke="#1a1a1a" stroke-width="1.3"/><path d="M550.55,425.15 L550.55,422.40 M550.55,425.15 L553.17,424.30 M550.55,425.15 L552.17,427.37 M550.55,425.15 L548.93,427.37 M550.55,425.15 L547.93,424.30 " stroke="#111" stroke-width="1.45" stroke-linecap="round" fill="none"/><rect x="563.50" y="416.15" width="16.70" height="106.05" fill="#ff4040" stroke="#1a1a1a" stroke-width="1.4"/><line x1="571.85" y1="412.90" x2="571.85" y2="416.20" stroke="#1a1a1a" stroke-width="1.3"/><line x1="567.50" y1="412.90" x2="576.20" y2="412.90" stroke="#1a1a1a" stroke-width="1.3"/><path d="M571.85,408.35 L571.85,405.60 M571.85,408.35 L574.47,407.50 M571.85,408.35 L573.47,410.57 M571.85,408.35 L570.23,410.57 M571.85,408.35 L569.23,407.50 " stroke="#111" stroke-width="1.45" stroke-linecap="round" fill="none"/><line x1="296.4" y1="543.70" x2="590.4" y2="543.70" stroke="#111" stroke-width="1.3"/><text transform="translate(318.75,563.50) rotate(-45)" font-size="15.2" text-anchor="end" fill="#111">C</text><text transform="translate(361.75,563.50) rotate(-45)" font-size="15.2" text-anchor="end" fill="#111">50</text><text transform="translate(383.45,563.50) rotate(-45)" font-size="15.2" text-anchor="end" fill="#111">50</text><text transform="translate(426.15,563.50) rotate(-45)" font-size="15.2" text-anchor="end" fill="#111">100</text><text transform="translate(447.65,563.50) rotate(-45)" font-size="15.2" text-anchor="end" fill="#111">100</text><text transform="translate(490.45,563.50) rotate(-45)" font-size="15.2" text-anchor="end" fill="#111">150</text><text transform="translate(511.95,563.50) rotate(-45)" font-size="15.2" text-anchor="end" fill="#111">150</text><text transform="translate(554.85,563.50) rotate(-45)" font-size="15.2" text-anchor="end" fill="#111">200</text><text transform="translate(576.15,563.50) rotate(-45)" font-size="15.2" text-anchor="end" fill="#111">200</text></g>
<line x1="339.3" y1="588.4" x2="587.7" y2="588.4" stroke="#444" stroke-width="1"/>
<text x="441.2" y="611" font-size="18" fill="#111"><tspan style="font-family:Liberation Serif,serif">μ</tspan>M</text>
<rect x="628.5" y="16.8" width="20.8" height="9.6" fill="#00c000" stroke="#111" stroke-width="1.1"/>
<rect x="628.5" y="33.4" width="20.8" height="10.2" fill="#ff4040" stroke="#111" stroke-width="1.1"/>
<text transform="translate(663.2,28.3) scale(1,1.05)" font-size="16.8" fill="#111">Ametryn</text>
<text transform="translate(663.2,45.0) scale(1,1.05)" font-size="16.8" fill="#111">Clomazone</text>
</svg></body></html>
